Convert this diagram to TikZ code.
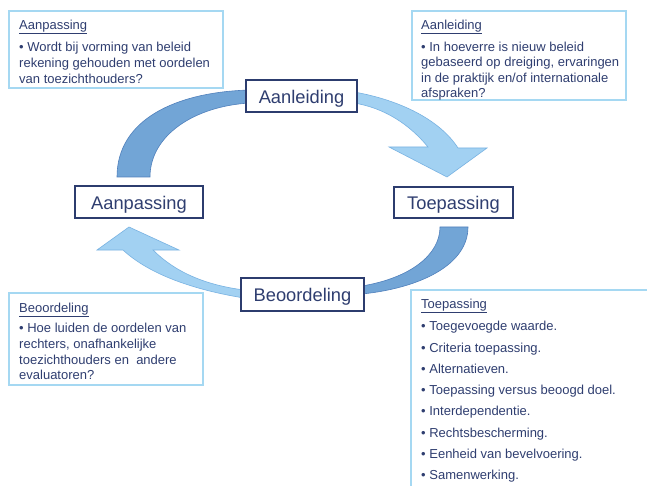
\documentclass[tikz,border=0pt]{standalone}
\usepackage{fontspec}
\setmainfont{Liberation Sans}
\definecolor{txt}{RGB}{47,62,112}
\definecolor{boxline}{RGB}{44,60,110}
\definecolor{infoline}{RGB}{165,216,242}
\definecolor{darkfill}{RGB}{114,165,214}
\definecolor{darkedge}{RGB}{80,128,188}
\definecolor{lightfill}{RGB}{162,209,242}
\definecolor{lightedge}{RGB}{120,178,226}
\begin{document}
\begin{tikzpicture}[x=1pt,y=-1pt,
  stage/.style={draw=boxline,line width=2pt,fill=white,inner sep=0pt,text=txt,
    font=\fontsize{18.3}{20}\selectfont,text height=14.6pt,text depth=0pt},
  info/.style={draw=infoline,line width=2.5pt,fill=white},
  infotext/.style={anchor=base west,inner sep=0pt,text=txt,font=\fontsize{13}{15}\selectfont},
  darkarc/.style={fill=darkfill,draw=darkedge,line width=0.6pt},
  lightarc/.style={fill=lightfill,draw=lightedge,line width=0.6pt}]
\fill[white] (0,0) rectangle (647,486);
\clip (0,0) rectangle (647,486);
% info boxes
\draw[info] (9,11) rectangle (223,88);
\draw[info] (412,11) rectangle (626,100);
\draw[info] (9,293) rectangle (203,385);
\draw[info] (411,290) rectangle (660,500);
% top-left text
\node[infotext] (tlh) at (19,29.3) {\underline{Aanpassing}};
\node[infotext] (tl1) at (19,51.7) {• Wordt bij vorming van beleid};
\node[infotext] (tl2) at (19,67.5) {rekening gehouden met oordelen};
\node[infotext] (tl3) at (19,83.3) {van toezichthouders?};
% top-right text
\node[infotext] (trh) at (421,29.3) {\underline{Aanleiding}};
\node[infotext] (tr1) at (421,51.7) {• In hoeverre is nieuw beleid};
\node[infotext] (tr2) at (421,66.9) {gebaseerd op dreiging, ervaringen};
\node[infotext] (tr3) at (421,82.1) {in de praktijk en/of internationale};
\node[infotext] (tr4) at (421,97.3) {afspraken?};
% bottom-left text
\node[infotext] (blh) at (19,312.3) {\underline{Beoordeling}};
\node[infotext] (bl1) at (19,332.7) {• Hoe luiden de oordelen van};
\node[infotext] (bl2) at (19,348.3) {rechters, onafhankelijke};
\node[infotext] (bl3) at (19,364.1) {toezichthouders en\ \ andere};
\node[infotext] (bl4) at (19,379.8) {evaluatoren?};
% bottom-right text
\node[infotext] (brh) at (421,308.3) {\underline{Toepassing}};
\foreach \t [count=\i from 0] in {Toegevoegde waarde.,Criteria toepassing.,Alternatieven.,Toepassing versus beoogd doel.,Interdependentie.,Rechtsbescherming.,Eenheid van bevelvoering.,Samenwerking.}
  \node[infotext] (br\i) at (421,330.7+21.3*\i) {• \t};
% cycle arrows
\draw[darkarc] (117,177) .. controls (117,120) and (175,92) .. (250,90) -- (250,103)
  .. controls (195,106) and (150,135) .. (150,177) -- cycle;
\draw[lightarc] (354,92) .. controls (400,100) and (440,120) .. (458,148) -- (487,148)
  -- (447,177) -- (389,147) -- (428,147) .. controls (410,125) and (385,108) .. (354,103) -- cycle;
\draw[darkarc] (440,227) -- (468,227) .. controls (468,265) and (420,288) .. (362,294)
  -- (362,286) .. controls (410,278) and (440,255) .. (440,227) -- cycle;
\draw[lightarc] (244,298) .. controls (195,290) and (150,275) .. (123,250) -- (97,250)
  -- (129,227) -- (179,250) -- (153,250) .. controls (175,272) and (205,285) .. (244,290) -- cycle;
% stage boxes
\node[stage,minimum width=111pt,minimum height=32pt] (aanl) at (301.5,96) {Aanleiding};
\node[stage,minimum width=128pt,minimum height=32pt] (aanp) at (139,202) {Aanpassing};
\node[stage,minimum width=119pt,minimum height=31pt] (toep) at (453.5,202.5) {Toepassing};
\node[stage,minimum width=123pt,minimum height=33pt] (beoo) at (302.5,294.5) {Beoordeling};
\end{tikzpicture}
\end{document}
